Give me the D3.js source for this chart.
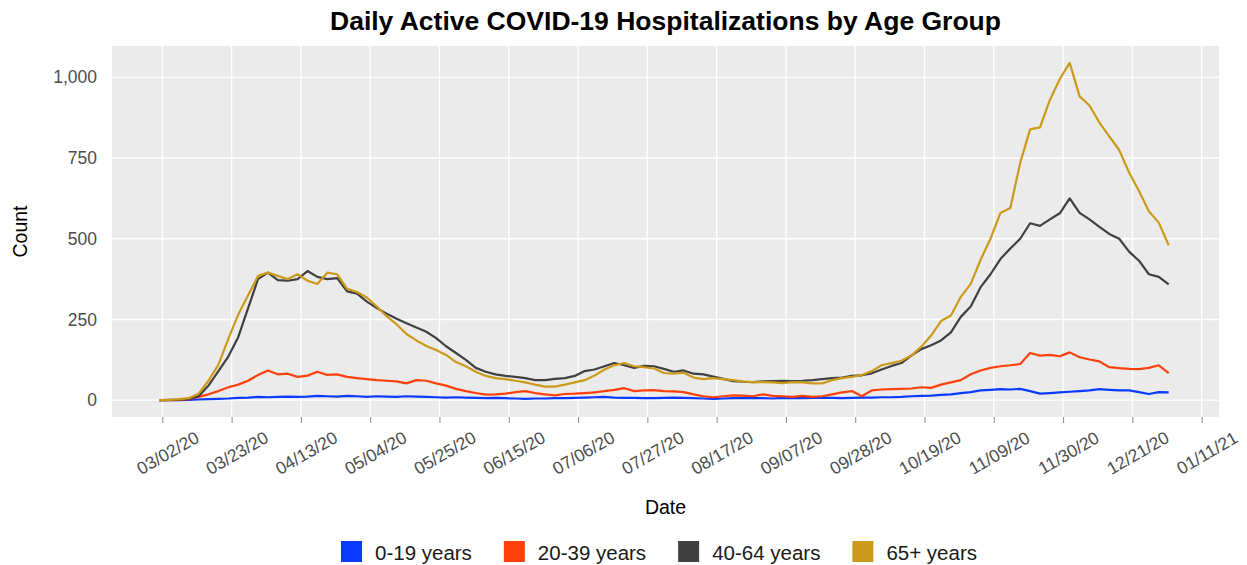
<!DOCTYPE html>
<html>
<head>
<meta charset="utf-8">
<script src="https://cdn.jsdelivr.net/npm/d3@7"></script>
<style>
  body { margin: 0; background: #fff; }
  svg { font-family: "Liberation Sans", Arial, sans-serif; }
</style>
</head>
<body>
<script>
// data: one reading every 3 days, 03/01/20 .. 01/01/21
const startDate = new Date(2020, 2, 1);
const stepDays = 3;
const groups = ["0-19 years", "20-39 years", "40-64 years", "65+ years"];
const colors = ["#0A3AFF", "#FF400A", "#404040", "#CC9A1A"];

const age0_19 = [0,0,0,1,2,3,4,5,7,8,10,9,10,11,10,11,13,12,11,13,12,10,12,11,10,12,11,10,9,8,
  9,8,7,6,7,6,5,4,5,5,6,6,7,8,9,10,8,7,7,6,6,7,8,7,6,5,4,5,6,7,
  6,6,5,7,6,6,7,8,7,6,7,8,8,9,9,10,12,13,14,16,18,22,25,30,32,34,33,35,28,20,
  22,24,26,28,30,34,32,30,30,25,19,25,24];
const age20_39 = [0,0,1,3,10,18,28,40,48,60,78,92,80,82,72,76,88,78,80,72,68,65,62,60,58,52,62,60,52,45,
  35,28,22,17,18,20,25,28,22,18,15,19,20,22,24,28,32,37,28,30,31,28,27,25,18,12,9,12,15,14,
  12,18,13,12,10,13,10,12,18,24,28,12,30,33,34,35,36,40,38,48,55,62,80,92,100,105,108,112,146,138,
  140,136,148,133,126,120,102,99,97,96,100,108,84];
const age40_64 = [0,1,2,4,12,45,90,135,195,285,375,395,372,370,375,400,382,375,378,337,330,305,285,268,252,238,225,212,192,167,
  146,125,100,88,80,75,72,68,62,62,66,68,75,90,95,105,115,108,100,106,105,97,88,92,82,80,73,66,59,57,
  56,58,59,60,59,60,62,65,68,70,75,77,83,95,106,115,138,158,170,185,210,258,290,350,390,437,470,500,548,540,
  560,579,625,580,560,537,515,500,460,432,390,382,359];
const age65plus = [0,1,3,6,20,60,110,190,265,325,385,395,385,375,390,370,360,395,390,345,335,318,290,260,235,205,185,168,155,140,
  118,105,88,75,68,65,60,55,48,42,42,48,55,62,76,95,108,115,105,102,98,84,82,85,70,65,68,65,62,58,
  56,56,55,53,56,55,52,52,62,68,72,78,90,108,115,122,138,165,200,245,262,320,360,435,500,580,595,735,839,845,
  930,995,1045,941,913,860,817,775,705,648,585,550,480];

const seriesValues = [age0_19, age20_39, age40_64, age65plus];
const dates = age65plus.map((_, i) => d3.timeDay.offset(startDate, i * stepDays));
const tickDates = d3.timeDay.range(new Date(2020, 2, 2), new Date(2021, 0, 12), 21);
const yTicks = [0, 250, 500, 750, 1000];

const width = 1247, height = 565;
const margin = {top: 46, right: 28, bottom: 148, left: 112};
const pw = width - margin.left - margin.right;
const ph = height - margin.top - margin.bottom;

const svg = d3.select("body").append("svg")
  .attr("width", width)
  .attr("height", height);

// ggplot-like 5% expansion
const xLo = new Date(2020, 2, 2), xHi = dates[dates.length - 1];
const xPad = (xHi - xLo) * 0.05;
const x = d3.scaleTime()
  .domain([new Date(+xLo - xPad), new Date(+xHi + xPad)])
  .range([margin.left, margin.left + pw]);

const yMax = d3.max(seriesValues.flat());
const y = d3.scaleLinear()
  .domain([-yMax * 0.05, yMax * 1.05])
  .range([margin.top + ph, margin.top]);

// panel
svg.append("rect")
  .attr("x", margin.left).attr("y", margin.top)
  .attr("width", pw).attr("height", ph)
  .attr("fill", "#EBEBEB");

// grid
svg.append("g").selectAll("line")
  .data(yTicks).join("line")
  .attr("x1", margin.left).attr("x2", margin.left + pw)
  .attr("y1", d => y(d)).attr("y2", d => y(d))
  .attr("stroke", "#fff").attr("stroke-width", 1.4);

svg.append("g").selectAll("line")
  .data(tickDates).join("line")
  .attr("x1", d => x(d)).attr("x2", d => x(d))
  .attr("y1", margin.top).attr("y2", margin.top + ph)
  .attr("stroke", "#fff").attr("stroke-width", 1.4);

// lines
const line = d3.line()
  .x((d, i) => x(dates[i]))
  .y(d => y(d));

svg.append("g").selectAll("path")
  .data(seriesValues).join("path")
  .attr("d", d => line(d))
  .attr("fill", "none")
  .attr("stroke", (d, i) => colors[i])
  .attr("stroke-width", 2.2)
  .attr("stroke-linejoin", "round");

// x axis
const xAxis = svg.append("g")
  .attr("transform", `translate(0,${margin.top + ph})`)
  .call(d3.axisBottom(x).tickValues(tickDates).tickFormat(d3.timeFormat("%m/%d/%y")).tickSize(6).tickPadding(0));
xAxis.select(".domain").remove();
xAxis.selectAll(".tick line").attr("stroke", "#8a8a8a");
xAxis.selectAll(".tick text")
  .attr("fill", "#4D4D4D")
  .style("font-size", "17.5px")
  .attr("text-anchor", "middle")
  .attr("dy", null)
  .attr("y", null)
  .attr("dominant-baseline", "central")
  .attr("transform", "translate(5,36) rotate(-30)");

// y axis
const yAxis = svg.append("g")
  .attr("transform", `translate(${margin.left},0)`)
  .call(d3.axisLeft(y).tickValues(yTicks).tickFormat(d3.format(",")).tickSize(0).tickPadding(15));
yAxis.select(".domain").remove();
yAxis.selectAll(".tick text")
  .attr("fill", "#4D4D4D")
  .style("font-size", "17.5px");

// titles
svg.append("text")
  .attr("x", margin.left + pw / 2).attr("y", 30)
  .attr("text-anchor", "middle")
  .style("font-size", "26.5px").style("font-weight", "bold")
  .text("Daily Active COVID-19 Hospitalizations by Age Group");

svg.append("text")
  .attr("x", margin.left + pw / 2).attr("y", 514)
  .attr("text-anchor", "middle")
  .style("font-size", "19.5px")
  .text("Date");

svg.append("text")
  .attr("transform", `translate(27,${margin.top + ph / 2}) rotate(-90)`)
  .attr("text-anchor", "middle")
  .style("font-size", "19.5px")
  .text("Count");

// legend
const legend = svg.append("g");
const items = legend.selectAll("g").data(groups).join("g");
items.append("rect")
  .attr("width", 21).attr("height", 21)
  .attr("y", 541)
  .attr("fill", (d, i) => colors[i]);
items.append("text")
  .attr("y", 552)
  .attr("x", 34)
  .attr("dominant-baseline", "central")
  .style("font-size", "20.5px")
  .attr("fill", "#1a1a1a")
  .text(d => d);

let cx = 0;
items.each(function() {
  const g = d3.select(this);
  g.attr("transform", `translate(${cx},0)`);
  cx += 34 + g.select("text").node().getComputedTextLength() + 32;
});
const legendW = cx - 32;
legend.attr("transform", `translate(${659 - legendW / 2},0)`);
</script>
</body>
</html>
